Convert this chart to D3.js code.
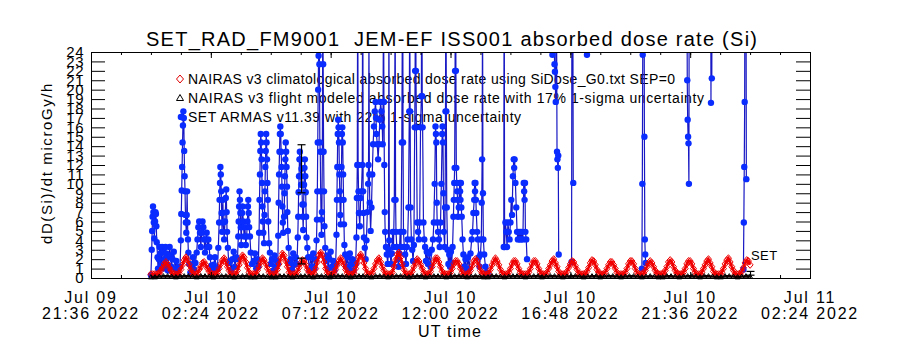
<!DOCTYPE html>
<html>
<head>
<meta charset="utf-8">
<script src="https://cdn.jsdelivr.net/npm/d3@7"></script>
<style>
  body { margin: 0; background: #fff; }
  text { font-family: "Liberation Sans", Arial, sans-serif; fill: #000; }
</style>
</head>
<body>
<svg id="chart" width="900" height="350"></svg>
<script>
// ---- data (minutes after 2022-07-10 00:00 UT) ----
const dayStart = Date.UTC(2022, 6, 10, 0, 0);
const xDomain = [Date.UTC(2022, 6, 9, 21, 36), Date.UTC(2022, 6, 11, 2, 24)];
const xMajorTicks = ['2022-07-09T21:36Z', '2022-07-10T02:24Z', '2022-07-10T07:12Z', '2022-07-10T12:00Z',
                     '2022-07-10T16:48Z', '2022-07-10T21:36Z', '2022-07-11T02:24Z'];
const yTicks = d3.range(0, 25);

const titleText = 'SET_RAD_FM9001  JEM-EF ISS001 absorbed dose rate (Si)';
const legendLabels = [
  'NAIRAS v3 climatological absorbed dose rate using SiDose_G0.txt SEP=0',
  'NAIRAS v3 flight modeled absorbed dose rate with 17% 1-sigma uncertainty',
  'SET ARMAS v11.39 with 22% 1-sigma uncertainty'
];

// NAIRAS climatological, one value every 4 minutes from 00:00
const climStep = 4;
const climDose = [
  0.4,0.4,0.4,0.4,0.4,0.5,0.8,1.1,1.5,1.7,1.5,1.1,0.8,0.5,0.4,
  0.4,0.4,0.5,0.9,1.4,1.9,2.2,1.9,1.4,0.9,0.5,0.4,0.4,0.5,0.9,
  1.2,1.6,1.7,1.4,1.0,0.7,0.4,0.4,0.4,0.4,0.6,1.0,1.5,1.9,2.1,
  1.7,1.2,0.8,0.4,0.4,0.4,0.4,0.8,1.4,2.0,2.4,2.2,1.7,1.1,0.6,
  0.4,0.4,0.4,0.4,0.8,1.2,1.7,2.1,1.9,1.5,1.0,0.6,0.4,0.4,0.4,
  0.4,0.9,1.5,2.1,2.6,2.4,1.8,1.2,0.6,0.4,0.4,0.4,0.4,0.7,1.1,
  1.6,1.9,1.8,1.4,0.9,0.6,0.4,0.4,0.5,1.0,1.7,2.4,2.7,2.4,1.7,
  1.0,0.5,0.4,0.4,0.4,0.5,0.9,1.4,1.8,2.1,1.8,1.4,0.9,0.5,0.4,
  0.4,0.4,0.5,1.0,1.6,2.2,2.5,2.2,1.6,1.0,0.5,0.4,0.4,0.6,1.0,
  1.5,1.9,2.1,1.7,1.2,0.8,0.4,0.4,0.4,0.4,0.6,1.2,1.9,2.5,2.7,
  2.2,1.5,0.9,0.4,0.4,0.4,0.4,0.7,1.2,1.6,2.0,1.8,1.4,1.0,0.6,
  0.4,0.4,0.4,0.7,1.2,1.7,2.1,2.1,1.7,1.2,0.7,0.4,0.4,0.4,0.4,
  0.6,1.0,1.5,1.8,1.8,1.5,1.0,0.6,0.4,0.4,0.4,0.5,0.8,1.3,1.8,
  2.0,1.8,1.3,0.8,0.5,0.4,0.4,0.4,0.5,0.9,1.4,1.8,2.1,1.8,1.4,
  0.9,0.5,0.4,0.4,0.4,0.6,1.0,1.5,1.8,1.8,1.5,1.0,0.6,0.4,0.4,
  0.4,0.4,0.6,1.0,1.5,1.8,1.8,1.5,1.0,0.6,0.4,0.4,0.4,0.6,1.0,
  1.4,1.8,2.0,1.6,1.2,0.7,0.4,0.4,0.4,0.4,0.7,1.1,1.5,1.8,1.7,
  1.3,0.9,0.5,0.4,0.4,0.4,0.4,0.7,1.1,1.6,1.9,1.8,1.4,0.9,0.6,
  0.4,0.4,0.4,0.6,1.0,1.4,1.7,1.7,1.4,1.0,0.6,0.4,0.4,0.4,0.4,
  0.6,1.0,1.5,1.8,1.8,1.5,1.0,0.6,0.4,0.4,0.4,0.5,0.8,1.2,1.6,
  1.8,1.6,1.2,0.8,0.5,0.4,0.4,0.4,0.5,0.8,1.2,1.7,1.9,1.7,1.2,
  0.8,0.5,0.4,0.4,0.4,0.6,1.0,1.5,1.8,1.8,1.5,1.0,0.6,0.4,0.4,
  0.4,0.6,1.0,1.4,1.8,2.0,1.6,1.2,0.7,0.4,0.4,0.4,0.4,0.6,1.0,
  1.5,1.9,2.1,1.7,1.2,0.8,0.4,0.4,0.4,0.4,0.7,1.1,1.6,1.9,1.8,
  1.4
];

// NAIRAS flight modeled, one value every 10 minutes from 00:00
const flightStep = 10;
const flightDose = [
  0.1,0.1,0.15,0.2,0.2,0.15,0.1,0.15,0.2,0.2,0.15,0.1,0.2,0.2,0.15,0.1,0.15,0.2,0.2,0.15,
  0.1,0.15,0.2,0.2,0.1,0.1,0.2,0.2,0.15,0.1,0.1,0.2,0.2,0.15,0.1,0.15,0.2,0.2,0.15,0.1,
  0.2,0.2,0.15,0.1,0.15,0.2,0.2,0.15,0.1,0.15,0.2,0.2,0.15,0.1,0.2,0.2,0.15,0.1,0.15,0.2,
  0.2,0.15,0.1,0.15,0.2,0.2,0.1,0.15,0.2,0.2,0.15,0.1,0.15,0.2,0.2,0.15,0.1,0.15,0.2,0.15,
  0.1,0.1,0.2,0.2,0.15,0.1,0.15,0.2,0.2,0.15,0.1,0.15,0.2,0.2,0.1,0.15,0.2,0.2,0.15,0.1,
  0.15,0.2,0.2,0.15,0.1,0.15,0.2,0.2,0.1,0.15,0.2,0.2,0.15,0.1,0.15,0.2,0.2,0.15,0.1,0.15,
  0.2,0.15,0.1,0.1,0.2,0.2,0.15,0.1,0.15,0.2,0.2,0.15,0.1,0.2,0.2,0.15,0.1,0.1,0.2,0.2,
  0.15,0.1,0.15,0.2,0.15
];

// SET ARMAS [minute, dose]; null = data gap
const setPoints = [
  [0,0.3],[2,3.0],[3,5.0],[4,6.5],[5,7.6],[6,7.0],[7,5.9],[8,4.2],[10,6.0],[11,7.0],[12,6.8],[13,5.5],[14,3.8],[16,2.2],[17,1.0],
  [19,2.0],[21,3.3],[23,2.6],[25,1.4],[27,3.3],[29,2.8],[31,1.0],[33,2.0],[35,3.3],[37,2.6],[39,1.4],[41,0.8],[43,2.2],[45,3.3],[47,2.4],[49,1.2],[52,2.0],[55,2.8],[58,1.0],[61,1.8],[64,0.6],[67,1.2],
  [70,1.2],[72,4.0],[73,6.8],[74,9.3],[75,11.8],[76,14.4],[77,16.2],[78,17.7],[79,17.0],[80,13.5],[81,10.8],[82,9.2],[83,6.7],[84,5.9],[85,4.8],[86,6.7],[87,9.2],[88,5.9],[89,4.1],[90,2.7],[92,1.5],
  [95,0.6],[98,1.4],[101,2.2],[104,0.9],[107,1.6],
  [110,2.7],[112,4.1],[114,5.4],[116,6.0],[118,4.8],[120,3.3],[122,4.8],[124,6.0],[126,5.4],[128,4.1],[130,2.7],[132,4.1],[134,4.8],[136,3.3],[138,4.1],[140,3.3],[142,2.2],[145,1.3],[148,0.8],
  [151,1.4],[154,2.2],[157,1.0],[160,1.0],[162,3.2],[164,5.9],[165,8.3],[166,10.1],[167,11.8],[168,11.0],[169,9.2],[170,6.9],[171,4.9],[172,6.9],[173,8.3],[174,5.9],[176,4.1],[178,6.0],[180,8.5],[181,9.4],[182,7.0],[183,4.9],[185,3.2],[187,1.6],
  [190,1.8],[193,0.8],[196,2.0],[199,2.8],[202,1.2],[205,2.2],
  [208,2.0],[210,4.4],[211,6.0],[212,7.6],[213,9.2],[214,8.3],[215,6.9],[216,5.4],[217,3.5],[218,5.4],[219,6.9],[220,7.6],[222,6.0],[224,4.4],[226,5.4],[228,3.5],[230,4.4],[232,6.0],[233,7.6],[234,8.3],[235,6.9],[236,5.4],[238,4.4],[240,2.7],[243,1.5],
  [247,1.8],[250,2.6],[253,1.0],[256,2.0],
  [258,1.2],[260,4.8],[261,8.3],[262,11.0],[263,13.5],[264,15.3],[265,14.4],[266,12.6],[267,10.1],[268,7.6],[269,6.0],[270,4.8],[272,3.7],[273,6.7],[274,9.2],[275,11.8],[276,13.5],[277,15.3],[278,14.4],[279,12.6],[280,10.1],[281,8.3],[282,6.0],[284,3.7],[286,2.7],[288,1.5],
  [291,2.0],[294,0.8],[297,2.4],[300,1.2],[303,1.8],
  [305,1.5],[306,4.5],[307,8.0],[308,11.0],[309,13.4],[310,15.3],[311,16.1],[312,15.3],[313,13.4],[314,11.8],[315,9.7],[316,7.6],[317,5.9],[318,4.8],[320,6.5],[321,9.0],[322,10.8],[323,12.6],[324,14.4],[325,13.4],[326,11.8],[327,9.7],[328,7.0],[329,5.0],[331,3.2],[333,1.6],
  [336,2.0],[339,0.9],[342,2.6],[345,1.4],[348,2.2],
  [351,1.5],[353,4.3],[354,6.5],[355,9.1],[356,10.8],[357,12.6],[358,13.4],[359,12.6],[360,10.8],[361,9.9],[362,11.6],[363,9.9],[364,7.8],[365,6.5],[366,5.1],[367,7.8],[368,9.9],[369,11.7],[370,12.6],[371,10.8],[372,9.1],[373,6.5],[374,4.3],[376,3.2],[378,2.2],
  [381,0.8],[384,2.2],[387,1.2],[390,2.6],[393,1.0],
  [396,2.0],[398,4.0],[399,6.2],[400,9.2],[401,14.4],[402,20.0],[403,23.6],[404,30.0],[405,22.7],[406,14.4],[407,13.4],[408,9.2],[409,6.2],[410,4.6],[411,7.0],[412,13.4],[413,28.0],[414,22.7],[415,13.4],[416,9.2],[417,5.5],[419,3.2],[421,1.8],
  [423,2.4],[426,1.0],[429,2.0],[432,2.8],[435,1.2],[438,1.8],[441,0.8],
  [444,1.5],[446,4.6],[447,8.3],[448,11.8],[449,15.3],[450,16.8],[451,16.0],[452,14.4],[453,11.0],[454,9.2],[455,6.7],[456,5.7],[457,8.3],[458,11.8],[459,15.3],[460,16.0],[461,14.4],[462,11.0],[463,8.3],[464,5.7],[465,3.5],[467,2.5],[469,1.2],
  [472,2.2],[475,0.9],[478,2.6],[481,1.4],[484,2.0],[487,0.8],[490,1.6],
  [492,1.5],[494,4.3],[495,8.5],[496,12.0],[497,35.0],[498,12.0],[499,9.2],[500,6.9],[502,5.5],[504,8.5],[506,9.2],[508,12.0],[509,40.0],[510,9.2],[511,6.9],[512,4.3],[514,3.2],
  [516,2.0],[518,4.0],[520,7.0],[522,10.0],[523,12.0],[524,26.0],[525,11.0],[526,8.0],[528,5.0],[530,7.5],[532,11.0],[534,14.2],[536,16.1],[538,17.7],[540,18.7],[541,17.0],[542,15.3],[544,14.2],[546,12.6],[548,14.2],[550,16.8],[552,18.7],[554,17.7],[556,16.1],[557,14.2],[558,18.7],[559,32.0],[560,18.7],[561,12.0],[562,7.0],[563,4.9],[565,3.3],[567,2.5],[569,1.5],
  [571,3.0],[572,30.0],[573,4.0],[575,2.5],[577,1.5],[579,2.6],[581,4.9],[583,3.3],[585,8.3],[587,30.0],[588,8.3],[589,4.9],[591,3.3],[593,2.0],[595,1.2],[597,2.6],[599,4.9],[601,3.3],[603,14.4],[605,35.0],[606,14.4],[607,4.9],[609,3.3],[611,2.5],[613,1.5],[615,3.3],[617,4.1],[619,7.5],[621,17.7],[622,30.0],[623,17.7],[624,7.5],[626,4.1],[628,3.0],[630,1.8],[632,3.5],[634,16.0],[635,22.0],[636,38.0],[637,22.0],[638,16.0],[640,5.9],[642,4.9],[644,4.1],[646,5.9],[648,16.0],[650,19.3],[651,40.0],[652,19.3],[653,16.0],[655,5.9],[657,4.1],[659,3.3],[661,1.8],[663,2.8],
  [666,1.5],[669,2.6],[672,1.2],[675,3.0],[678,4.1],[680,5.9],[682,10.0],[684,16.1],[685,15.3],[686,14.4],[687,8.0],[688,5.9],[690,4.9],[692,4.1],[694,3.3],[696,5.9],[698,10.0],[700,15.3],[701,16.1],[702,14.4],[703,9.0],[704,4.9],[706,3.3],
  [707,7.5],[708,17.7],[709,35.0],[710,17.7],[711,7.5],[713,3.0],[715,1.5],[717,2.5],[719,1.2],[721,2.8],[723,1.6],[725,3.3],
  [727,6.5],[728,8.3],[729,10.1],[730,11.7],[731,22.0],[732,36.0],[733,22.0],[734,11.7],[735,10.1],[736,9.2],[737,8.3],[738,6.5],
  [740,7.5],[742,10.1],[743,9.2],[744,8.3],[745,10.1],[746,7.5],[747,6.5],[749,4.1],[751,2.5],[753,1.2],[756,2.0],[759,0.8],[762,2.2],[765,1.0],[768,2.6],
  [771,4.1],[773,4.9],[775,6.9],[777,8.3],[778,10.1],[779,9.2],[780,10.1],[781,8.3],[782,6.9],[784,4.9],[786,4.1],[788,2.2],[790,1.2],
  [792,2.5],[794,4.1],[795,8.0],[796,12.6],[797,30.0],[798,9.0],[799,4.1],[801,2.5],[804,1.2],[807,0.6],[810,0.3],
  null,
  [848,3.3],[849,40.0],[850,3.3],[852,5.9],[854,4.9],[856,3.3],[858,5.9],[860,4.9],[862,4.1],[864,5.9],[866,8.3],[868,6.7],[870,10.8],[872,12.6],[873,11.7],[874,12.6],[876,10.1],[878,7.5],[880,4.9],[882,4.1],[884,4.9],[886,4.1],[888,4.9],[890,4.1],[892,4.9],[894,4.1],[896,10.1],[897,9.2],[898,8.3],[899,10.1],[900,4.9],[902,4.1],[904,2.0],
  null,
  [965,23.7],[966,40.0],[968,35.0],[970,22.7],[971,21.9],[972,20.3],[973,18.7],[974,40.0],[976,13.4],[977,12.6],[978,11.7],[979,13.0],[980,2.5],
  null,
  [1011,1.7],[1012,40.0],[1014,30.0],[1015,10.1],
  null,
  [1048,23.7],[1049,40.0],
  null,
  [1180,1.0],[1181,10.0],[1182,23.7],[1183,45.0],[1185,40.0],[1186,15.0],[1187,4.1],[1188,2.5],[1189,1.6],
  null,
  [1288,40.0],[1289,21.0],[1290,16.8],[1291,15.0],[1292,14.3],[1293,10.0],[1294,45.0],
  null,
  [1345,40.0],[1346,18.6],[1347,40.0],[1348,21.2],[1349,45.0],
  null,
  [1424,0.9],[1425,5.9],[1426,11.8],[1427,18.7],[1428,45.0],[1430,40.0],[1431,10.5]
];

// sample 1-sigma bars: [minute, dose, fractional sigma]
const errorBars = [[362, 11.6, 0.22], [362, 1.8, 0.17], [1441, 0.5, 0.4]];

// ---- layout ----
const plotLeft = 91, plotRight = 810, plotTop = 52, plotBottom = 278;
const minuteDate = m => new Date(dayStart + m * 60000);

const svg = d3.select('#chart');

const x = d3.scaleUtc().domain(xDomain).range([plotLeft, plotRight]);
const y = d3.scaleLinear().domain([0, 24]).range([plotBottom, plotTop]);

svg.append('defs').append('clipPath').attr('id', 'plotclip')
  .append('rect')
  .attr('x', plotLeft).attr('y', plotTop)
  .attr('width', plotRight - plotLeft).attr('height', plotBottom - plotTop);

// title
svg.append('text')
  .attr('x', 146).attr('y', 46)
  .attr('textLength', 611)
  .attr('lengthAdjust', 'spacing')
  .style('font-size', '20px')
  .style('white-space', 'pre')
  .text(titleText);

// legend (drawn first, data lines cross it like in the original)
const legendY = [79, 98, 117];
const legendLen = [487, 516, 333];
const legend = svg.append('g');
legend.selectAll('text.leg')
  .data(legendLabels)
  .enter().append('text')
  .attr('class', 'leg')
  .attr('x', 188)
  .attr('y', (d, i) => legendY[i])
  .attr('dy', '0.36em')
  .attr('textLength', (d, i) => legendLen[i])
  .attr('lengthAdjust', 'spacing')
  .style('font-size', '14px')
  .text(d => d);

const diamond = 'M0,-4L3.5,0L0,4L-3.5,0Z';
const smallDiamond = 'M0,-3.5L3,0L0,3.5L-3,0Z';
const triangle = 'M0,-3.5L3.5,2.5L-3.5,2.5Z';
const smallTriangle = 'M0,-2.5L2.5,1.8L-2.5,1.8Z';

legend.append('path').attr('d', diamond)
  .attr('transform', `translate(180,${legendY[0]})`)
  .attr('fill', 'none').attr('stroke', '#e00000');
legend.append('path').attr('d', triangle)
  .attr('transform', `translate(180,${legendY[1]})`)
  .attr('fill', 'none').attr('stroke', '#000');
legend.append('circle')
  .attr('cx', 181).attr('cy', legendY[2]).attr('r', 3.3)
  .attr('fill', '#0a2cff');

const plot = svg.append('g').attr('clip-path', 'url(#plotclip)');

// SET ARMAS line + dots
plot.append('path')
  .datum(setPoints)
  .attr('fill', 'none')
  .attr('stroke', '#1818c4')
  .attr('stroke-width', 1.2)
  .attr('d', d3.line()
    .defined(d => d !== null)
    .x(d => x(minuteDate(d[0])))
    .y(d => y(d[1])));

plot.selectAll('circle.set')
  .data(setPoints.filter(d => d !== null))
  .enter().append('circle')
  .attr('class', 'set')
  .attr('cx', d => x(minuteDate(d[0])))
  .attr('cy', d => y(d[1]))
  .attr('r', 3.2)
  .attr('fill', '#0a2cff');

// NAIRAS climatological: dense diamonds joined by a heavy red trace
plot.append('path')
  .datum(climDose)
  .attr('fill', 'none')
  .attr('stroke', '#f00000')
  .attr('stroke-width', 2.6)
  .attr('d', d3.line()
    .x((d, i) => x(minuteDate(i * climStep)))
    .y(d => y(d)));

plot.selectAll('path.clim')
  .data(climDose)
  .enter().append('path')
  .attr('class', 'clim')
  .attr('d', smallDiamond)
  .attr('transform', (d, i) => `translate(${x(minuteDate(i * climStep))},${y(d)})`)
  .attr('fill', 'none')
  .attr('stroke', '#f00000')
  .attr('stroke-width', 1);

// NAIRAS flight modeled triangles along the floor
svg.append('path')
  .datum(flightDose)
  .attr('fill', 'none')
  .attr('stroke', '#1a0000')
  .attr('stroke-width', 2.4)
  .attr('d', d3.line()
    .x((d, i) => x(minuteDate(i * flightStep)))
    .y(d => y(d)));

svg.append('g').selectAll('path.flight')
  .data(flightDose)
  .enter().append('path')
  .attr('class', 'flight')
  .attr('d', smallTriangle)
  .attr('transform', (d, i) => `translate(${x(minuteDate(i * flightStep))},${y(d)})`)
  .attr('fill', 'none')
  .attr('stroke', '#000')
  .attr('stroke-width', 1);

// error bars
const eb = svg.append('g').attr('stroke', '#000').attr('stroke-width', 1.2);
errorBars.forEach(([m, v, f]) => {
  const cx = x(minuteDate(m));
  const y0 = y(v * (1 - f)), y1 = y(v * (1 + f));
  eb.append('line').attr('x1', cx).attr('x2', cx).attr('y1', y0).attr('y2', y1);
  eb.append('line').attr('x1', cx - 4).attr('x2', cx + 4).attr('y1', y0).attr('y2', y0);
  eb.append('line').attr('x1', cx - 4).attr('x2', cx + 4).attr('y1', y1).attr('y2', y1);
});

// series tag at the end of the SET trace
svg.append('text')
  .attr('x', x(minuteDate(1442))).attr('y', y(1.9))
  .style('font-size', '13px')
  .style('letter-spacing', '0.5px')
  .text('SET');

// ---- axes ----
const majors = xMajorTicks.map(s => new Date(s));
const minors = d3.range(xDomain[0], xDomain[1] + 1, 72 * 60000).map(t => new Date(t));

function styleAxis(g) {
  g.select('.domain').remove();
  g.selectAll('line').attr('stroke', '#000');
}

svg.append('g').attr('transform', `translate(0,${plotBottom})`)
  .call(d3.axisBottom(x).tickValues(minors).tickSize(-3).tickFormat(''))
  .call(styleAxis);
svg.append('g').attr('transform', `translate(0,${plotBottom})`)
  .call(d3.axisBottom(x).tickValues(majors).tickSize(-6).tickFormat(''))
  .call(styleAxis);
svg.append('g').attr('transform', `translate(0,${plotTop})`)
  .call(d3.axisTop(x).tickValues(minors).tickSize(-3).tickFormat(''))
  .call(styleAxis);
svg.append('g').attr('transform', `translate(0,${plotTop})`)
  .call(d3.axisTop(x).tickValues(majors).tickSize(-6).tickFormat(''))
  .call(styleAxis);

const yAxis = svg.append('g').attr('transform', `translate(${plotLeft},0)`)
  .call(d3.axisLeft(y).tickValues(yTicks).tickSize(-14).tickPadding(7).tickFormat(d3.format('d')))
  .call(styleAxis);
yAxis.selectAll('text')
  .attr('fill', '#000')
  .style('font-family', '"Liberation Sans", Arial, sans-serif')
  .style('font-size', '15px')
  .style('letter-spacing', '0.5px');

svg.append('g').attr('transform', `translate(${plotRight},0)`)
  .call(d3.axisRight(y).tickValues(yTicks).tickSize(-14).tickFormat(''))
  .call(styleAxis);

// frame
svg.append('rect')
  .attr('x', plotLeft + 0.5).attr('y', plotTop + 0.5)
  .attr('width', plotRight - plotLeft).attr('height', plotBottom - plotTop)
  .attr('fill', 'none').attr('stroke', '#000');

// x tick labels (two lines)
const fmtDay = d3.utcFormat('%b %d');
const fmtTime = d3.utcFormat('%H:%M %Y');
const xl = svg.append('g').attr('text-anchor', 'middle')
  .style('font-size', '16px').style('letter-spacing', '1.8px');
majors.forEach(d => {
  xl.append('text').attr('x', x(d)).attr('y', 303).text(fmtDay(d));
  xl.append('text').attr('x', x(d)).attr('y', 319).text(fmtTime(d));
});

svg.append('text')
  .attr('x', 450).attr('y', 337)
  .attr('text-anchor', 'middle')
  .style('font-size', '16px')
  .style('letter-spacing', '1.2px')
  .text('UT time');

svg.append('text')
  .attr('transform', 'translate(52,163) rotate(-90)')
  .attr('text-anchor', 'middle')
  .style('font-size', '15px')
  .style('letter-spacing', '1.6px')
  .text('dD(Si)/dt microGy/h');
</script>
</body>
</html>
